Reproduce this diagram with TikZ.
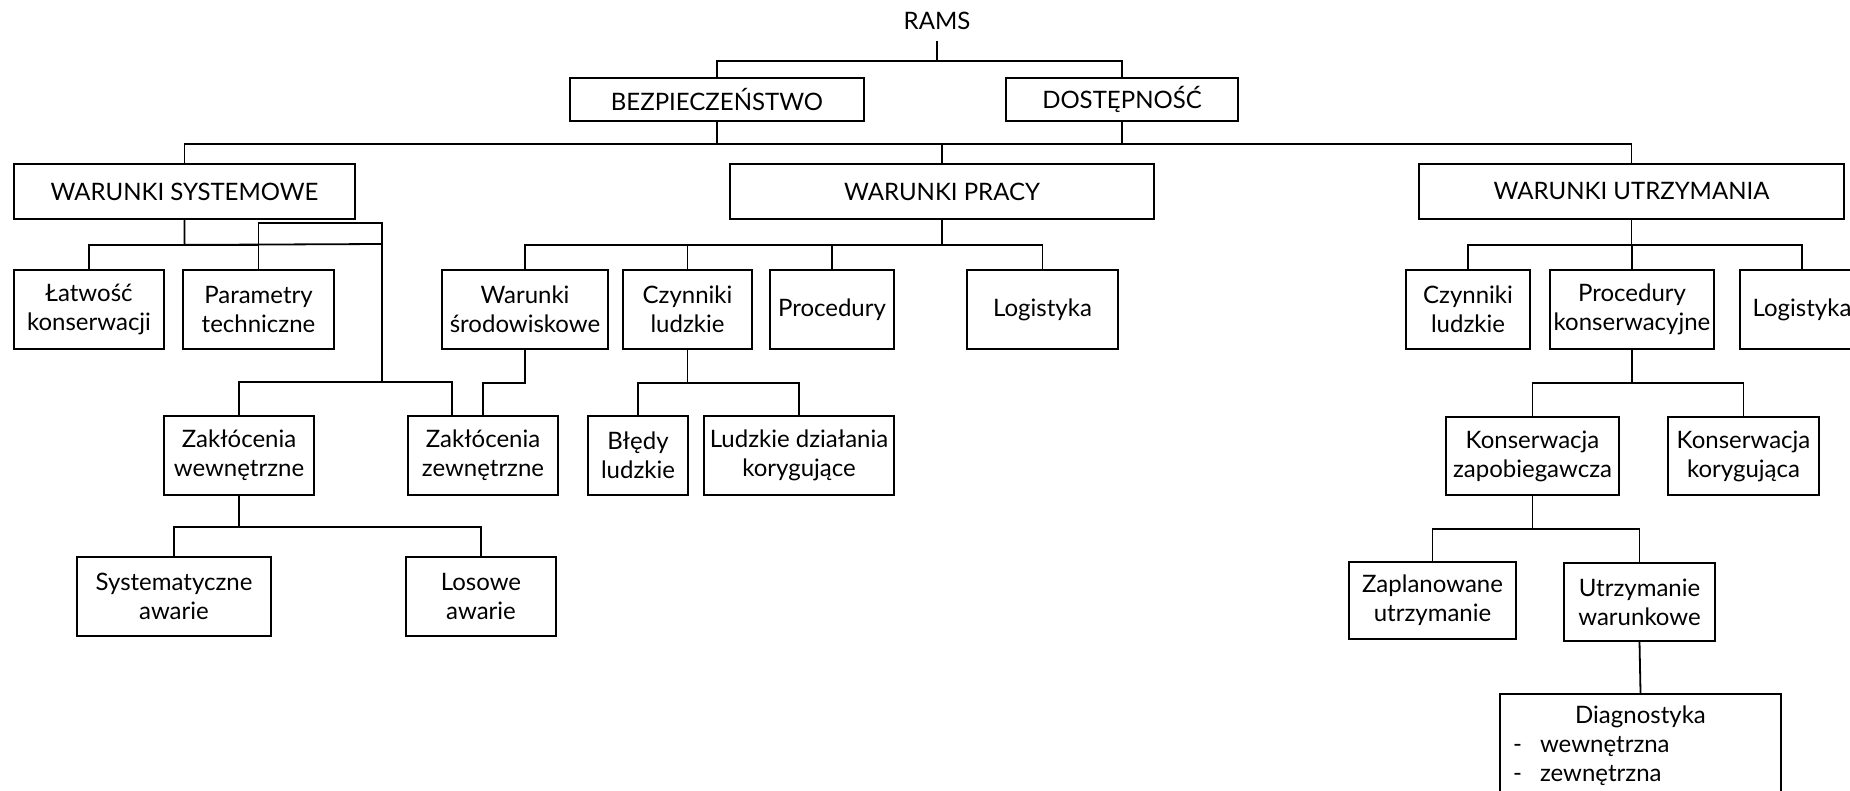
\documentclass[tikz,border=0pt]{standalone}
\usepackage{fontspec}
\setmainfont{Lato}
\usepackage{tikz}

\begin{document}
\begin{tikzpicture}[x=0.5pt, y=-0.5pt, line width=0.9pt,
    box/.style={draw, rectangle, inner sep=1pt, align=center,
        font=\fontsize{12}{14.5}\selectfont}]
    \path[use as bounding box] (0,0) rectangle (1850,791);
    \clip (0,0) rectangle (1850,791);

    \node[inner sep=5pt, anchor=base, font=\fontsize{12}{14.5}\selectfont] (rams) at (937,30) {RAMS};

    \node[box, minimum width=147pt, minimum height=21.5pt] (bez) at (717,99.5) {BEZPIECZEŃSTWO};
    \node[box, minimum width=116pt, minimum height=21.5pt] (dost) at (1122,99.5) {DOSTĘPNOŚĆ};

    \node[box, minimum width=170.5pt, minimum height=27.5pt] (ws) at (184.5,191.5) {WARUNKI SYSTEMOWE};
    \node[box, minimum width=212pt, minimum height=27.5pt] (wp) at (942,191.5) {WARUNKI PRACY};
    \node[box, minimum width=212.5pt, minimum height=27.5pt] (wu) at (1631.5,191.5) {WARUNKI UTRZYMANIA};

    \node[box, minimum width=75pt, minimum height=39.5pt] (latw) at (89,309.5) {Łatwość\\konserwacji};
    \node[box, minimum width=75.5pt, minimum height=39.5pt] (param) at (258.5,309.5) {Parametry\\techniczne};
    \node[box, minimum width=83pt, minimum height=39.5pt] (wsrod) at (525,309.5) {Warunki\\środowiskowe};
    \node[box, minimum width=64.5pt, minimum height=39.5pt] (czl) at (687.5,309.5) {Czynniki\\ludzkie};
    \node[box, minimum width=62pt, minimum height=39.5pt] (proc) at (832,309.5) {Procedury};
    \node[box, minimum width=75.5pt, minimum height=39.5pt] (logi) at (1042.5,309.5) {Logistyka};
    \node[box, minimum width=62pt, minimum height=39.5pt] (czl2) at (1468,309.5) {Czynniki\\ludzkie};
    \node[box, minimum width=82pt, minimum height=39.5pt] (pk) at (1632,309.5) {Procedury\\konserwacyjne};
    \node[box, minimum width=62pt, minimum height=39.5pt] (log2) at (1802,309.5) {Logistyka};

    \node[box, minimum width=75pt, minimum height=39.5pt] (zw) at (239,455.5) {Zakłócenia\\wewnętrzne};
    \node[box, minimum width=75pt, minimum height=39.5pt] (zz) at (483,455.5) {Zakłócenia\\zewnętrzne};
    \node[box, minimum width=50pt, minimum height=39.5pt] (bl) at (638,455.5) {Błędy\\ludzkie};
    \node[box, minimum width=95pt, minimum height=39.5pt] (ldk) at (799,455.5) {Ludzkie działania\\korygujące};
    \node[box, minimum width=86.5pt, minimum height=39pt] (kz) at (1532.5,456) {Konserwacja\\zapobiegawcza};
    \node[box, minimum width=75.5pt, minimum height=39pt] (kk) at (1743.5,456) {Konserwacja\\korygująca};

    \node[box, minimum width=97pt, minimum height=39.5pt] (sa) at (174,596.5) {Systematyczne\\awarie};
    \node[box, minimum width=75pt, minimum height=39.5pt] (la) at (481,596.5) {Losowe\\awarie};
    \node[box, minimum width=83.5pt, minimum height=38.5pt] (zu) at (1432.5,600.5) {Zaplanowane\\utrzymanie};
    \node[box, minimum width=75.5pt, minimum height=39pt] (uw) at (1639.5,602) {Utrzymanie\\warunkowe};

    \node[box, anchor=north, text width=127.5pt, inner xsep=6.5pt, inner ysep=6pt, align=left] (diag) at (1640.5,693)
        {\makebox[\linewidth][c]{Diagnostyka}\\\makebox[13.5pt][l]{-}wewnętrzna\\\makebox[13.5pt][l]{-}zewnętrzna};

    \draw (rams.south) -- ++(0,20) -| (bez.north);
    \draw (rams.south) -- ++(0,20) -| (dost.north);

    \draw (bez.south) -- ++(0,22) -| (ws.north);
    \draw (bez.south) -- ++(0,22) -| (wp.north);
    \draw (dost.south) -- ++(0,22) -| (wp.north);
    \draw (dost.south) -- ++(0,22) -| (wu.north);

    \draw (ws.south) -- ++(0,25) -| (latw.north);
    \draw (ws.south) -- ++(0,25) -| (param.north);
    \draw (ws.south) -- ++(0,25) -- (382,244);
    \draw (param.north) |- (382,223) |- (239,382) -- (zw.north);
    \draw (382,382) -| ([xshift=-15.5pt]zz.north);

    \draw (wp.south) -- ++(0,25) -| (wsrod.north);
    \draw (wp.south) -- ++(0,25) -| (czl.north);
    \draw (wp.south) -- ++(0,25) -| (proc.north);
    \draw (wp.south) -- ++(0,25) -| (logi.north);

    \draw (wu.south) -- ++(0,25) -| (czl2.north);
    \draw (wu.south) -- ++(0,25) -| (pk.north);
    \draw (wu.south) -- ++(0,25) -| (log2.north);

    \draw (wsrod.south) -- ++(0,33) -| (zz.north);
    \draw (czl.south) -- ++(0,33) -| (bl.north);
    \draw (czl.south) -- ++(0,33) -| (ldk.north);
    \draw (pk.south) -- ++(0,33) -| (kz.north);
    \draw (pk.south) -- ++(0,33) -| (kk.north);

    \draw (zw.south) -- ++(0,31) -| (sa.north);
    \draw (zw.south) -- ++(0,31) -| (la.north);
    \draw (kz.south) -- ++(0,33) -| (zu.north);
    \draw (kz.south) -- ++(0,33) -| (uw.north);

    \draw (uw.south) -- (diag.north);
\end{tikzpicture}
\end{document}
